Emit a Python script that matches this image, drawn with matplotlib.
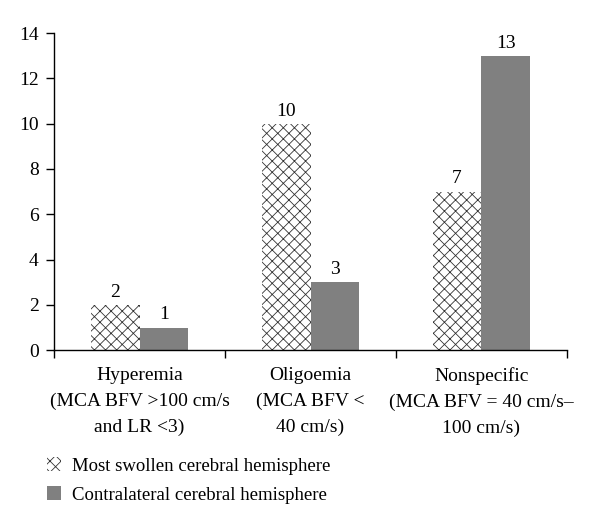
import matplotlib
matplotlib.use('Agg')
import matplotlib.pyplot as plt
from matplotlib.patches import Patch
import numpy as np

categories = ['Hyperemia\n(MCA BFV >100 cm/s\nand LR <3)',
              'Oligoemia\n(MCA BFV <\n40 cm/s)',
              'Nonspecific\n(MCA BFV = 40 cm/s–\n100 cm/s)']
swollen = [2, 10, 7]
contralateral = [1, 3, 13]
series_names = ['Most swollen cerebral hemisphere',
                'Contralateral cerebral hemisphere']

plt.rcParams['font.family'] = ['Liberation Serif', 'DejaVu Serif']
plt.rcParams['hatch.linewidth'] = 0.6
plt.rcParams['hatch.color'] = '#333333'

fig = plt.figure(figsize=(6, 5.25), dpi=100)
ax = fig.add_axes([0.09, 0.333, 0.855, 0.604])

x = np.arange(len(categories))
w = 0.286
b1 = ax.bar(x - w / 2, swollen, w, color='white', edgecolor='#333333',
            hatch='xxx', linewidth=0)
b2 = ax.bar(x + w / 2, contralateral, w, color='#808080', linewidth=0)

for rect, v in list(zip(b1, swollen)) + list(zip(b2, contralateral)):
    ax.annotate(str(v), (rect.get_x() + rect.get_width() / 2, v),
                xytext=(0, 3), textcoords='offset points',
                ha='center', va='bottom', fontsize=14)

ax.set_xlim(-0.5, 2.5)
ax.set_ylim(0, 14)
ax.set_yticks(range(0, 15, 2))
ax.tick_params(axis='y', labelsize=14, length=6, width=1, direction='out', pad=5)

ax.set_xticks([-0.5, 0.5, 1.5, 2.5])
ax.set_xticklabels([])
ax.tick_params(axis='x', which='major', length=6, width=1, direction='out')
ax.set_xticks(x, minor=True)
ax.set_xticklabels(categories, minor=True, fontsize=14, linespacing=1.65)
ax.tick_params(axis='x', which='minor', length=0, pad=12)

for s in ['top', 'right']:
    ax.spines[s].set_visible(False)
ax.spines['left'].set_linewidth(1)
ax.spines['bottom'].set_linewidth(1)

handles = [Patch(facecolor='white', edgecolor='#333333', hatch='xxx', linewidth=0),
           Patch(facecolor='#808080', linewidth=0)]
fig.legend(handles, series_names, loc='upper left', bbox_to_anchor=(0.05, 0.162),
           frameon=False, fontsize=13.5, handlelength=0.75, handleheight=0.8,
           handletextpad=0.6, labelspacing=0.62)

fig.savefig('out.png', dpi=100)
